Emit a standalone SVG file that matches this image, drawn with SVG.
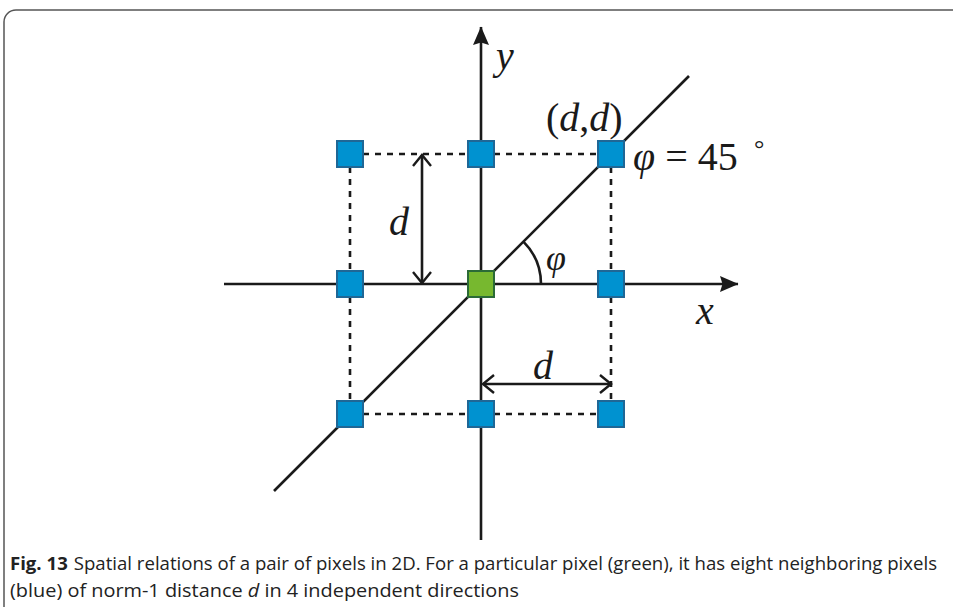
<svg xmlns="http://www.w3.org/2000/svg" width="953" height="607" viewBox="0 0 953 607">
<style>
.ax{stroke:#1a1a1a;stroke-width:2.6;fill:none}
.dash{stroke:#1a1a1a;stroke-width:2.6;stroke-dasharray:6,6;fill:none}
.blue{fill:#0092d0;stroke:#1f6796;stroke-width:2}
.green{fill:#77b82f;stroke:#2b6b37;stroke-width:2}
.m{font-family:"Liberation Serif",serif;font-style:italic;fill:#1a1a1a}
.r{font-family:"Liberation Serif",serif;fill:#1a1a1a}
.cap{font-family:"Open Sans","Noto Sans",sans-serif;font-size:18.5px;fill:#222}
</style>
<defs>
<marker id="tri" markerWidth="19" markerHeight="17" refX="18" refY="8.5" orient="auto" markerUnits="userSpaceOnUse"><path d="M0,0.5 L18.5,8.5 L0,16.5 L2.5,8.5 Z" fill="#1a1a1a"/></marker>
<marker id="open" markerWidth="14" markerHeight="20" refX="12" refY="10" orient="auto" markerUnits="userSpaceOnUse"><path d="M1,1 L12,10 L1,19" fill="none" stroke="#1a1a1a" stroke-width="2.4"/></marker>
</defs>
<rect x="4" y="10" width="980" height="640" rx="12" fill="#fff" stroke="#555" stroke-width="1.5"/>
<g id="connectors">
<path class="dash" d="M363,154 H468 M494,154 H598"/>
<path class="dash" d="M363,414 H468 M494,414 H598"/>
<path class="dash" d="M350,167 V271 M350,297 V401"/>
<path class="dash" d="M611,167 V271 M611,297 V401"/>
<path class="ax" d="M481,540 V27" marker-end="url(#tri)"/>
<path class="ax" d="M224,284 H738" marker-end="url(#tri)"/>
<path class="ax" d="M274,491 L689,76"/>
<path class="ax" d="M541,284 A60,60 0 0 0 523.4,241.6"/>
<path class="ax" d="M422,219 V155" marker-end="url(#open)"/>
<path class="ax" d="M422,219 V283" marker-end="url(#open)"/>
<path class="ax" d="M546,384 H483" marker-end="url(#open)"/>
<path class="ax" d="M546,384 H611" marker-end="url(#open)"/>
</g>
<g id="n-tl"><rect class="blue" x="337" y="141" width="26" height="26"/></g>
<g id="n-tc"><rect class="blue" x="468" y="141" width="26" height="26"/></g>
<g id="n-tr"><rect class="blue" x="598" y="141" width="26" height="26"/></g>
<g id="n-ml"><rect class="blue" x="337" y="271" width="26" height="26"/></g>
<g id="n-c"><rect class="green" x="468" y="271" width="26" height="26"/></g>
<g id="n-mr"><rect class="blue" x="598" y="271" width="26" height="26"/></g>
<g id="n-bl"><rect class="blue" x="337" y="401" width="26" height="26"/></g>
<g id="n-bc"><rect class="blue" x="468" y="401" width="26" height="26"/></g>
<g id="n-br"><rect class="blue" x="598" y="401" width="26" height="26"/></g>
<g id="labels">
<text class="m" x="496" y="69" font-size="40">y</text>
<text class="m" x="696" y="324" font-size="40">x</text>
<text class="m" x="389" y="235" font-size="40">d</text>
<text class="m" x="533" y="379" font-size="40">d</text>
<text class="m" x="546" y="270" font-size="36">φ</text>
<text class="r" x="546" y="131" font-size="40">(<tspan class="m">d</tspan>,<tspan class="m">d</tspan>)</text>
<text class="r" x="633" y="170" font-size="40"><tspan class="m">φ</tspan> = 45</text>
<text class="r" x="754" y="157" font-size="26">°</text>
</g>
<g id="caption">
<text class="cap" x="10" y="570" textLength="927" lengthAdjust="spacingAndGlyphs"><tspan font-weight="bold">Fig. 13</tspan><tspan dx="6">Spatial relations of a pair of pixels in 2D. For a particular pixel (green), it has eight neighboring pixels</tspan></text>
<text class="cap" x="10" y="597" textLength="509" lengthAdjust="spacingAndGlyphs">(blue) of norm-1 distance <tspan font-style="italic">d</tspan> in 4 independent directions</text>
</g>
</svg>
